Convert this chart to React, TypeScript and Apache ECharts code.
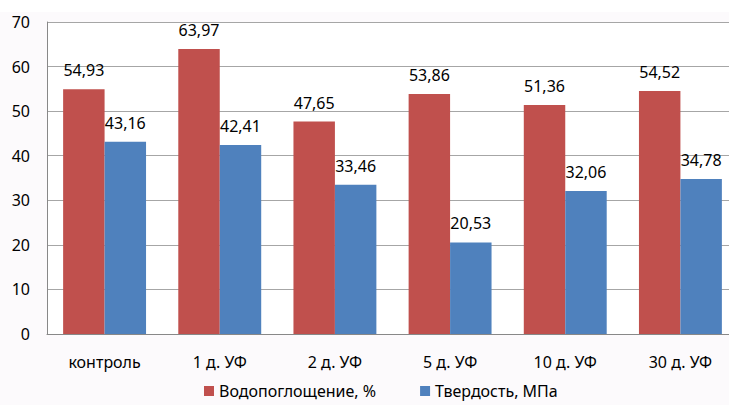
import React, { useEffect, useRef } from "react";
import * as echarts from "echarts";

const categories = ["контроль", "1 д. УФ", "2 д. УФ", "5 д. УФ", "10 д. УФ", "30 д. УФ"];
const waterAbsorption = [54.93, 63.97, 47.65, 53.86, 51.36, 54.52];
const hardness = [43.16, 42.41, 33.46, 20.53, 32.06, 34.78];
const seriesNames = ["Водопоглощение, %", "Твердость, МПа"];

const FONT = "Noto Sans";

export default function App() {
  const ref = useRef<HTMLDivElement>(null);
  useEffect(() => {
    if (!ref.current) return;
    const chart = echarts.init(ref.current, undefined, { renderer: "svg" });
    const fmt = (p: any) => String(p.value.toFixed(2)).replace(".", ",");
    chart.setOption({
      animation: false,
      backgroundColor: "#fcfafc",
      textStyle: { fontFamily: FONT },
      graphic: [
        { type: "rect", left: 0, top: 0, shape: { width: 729, height: 12 }, style: { fill: "#ffffff" }, z: -10, silent: true },
      ],
      grid: {
        left: 47, top: 22, width: 691, height: 312, containLabel: false, outerBoundsMode: "none",
        show: true, backgroundColor: "#ffffff", borderWidth: 0,
      },
      legend: {
        bottom: 1,
        left: 199,
        itemWidth: 10,
        itemHeight: 10,
        itemGap: 44,
        icon: "rect",
        textStyle: { fontSize: 16, color: "#000", fontFamily: FONT },
        data: seriesNames,
      },
      xAxis: {
        type: "category",
        data: categories,
        axisLine: { lineStyle: { color: "#888", width: 1 } },
        axisTick: { show: false },
        axisLabel: { fontSize: 16, color: "#000", margin: 20, fontFamily: FONT },
      },
      yAxis: {
        type: "value",
        min: 0,
        max: 70,
        interval: 10,
        axisLine: { show: true, lineStyle: { color: "#888", width: 1 } },
        axisTick: { show: false },
        splitLine: { lineStyle: { color: "#a6a6a6", width: 1 } },
        axisLabel: { fontSize: 16, color: "#000", margin: 17, fontFamily: FONT },
      },
      series: [
        {
          name: seriesNames[0],
          type: "bar",
          data: waterAbsorption,
          barGap: "0%",
          barCategoryGap: "28%",
          itemStyle: { color: "#c0504d" },
          label: { show: true, position: "top", distance: 11, fontSize: 16, color: "#000", formatter: fmt, fontFamily: FONT },
        },
        {
          name: seriesNames[1],
          type: "bar",
          data: hardness,
          barGap: "0%",
          barCategoryGap: "28%",
          itemStyle: { color: "#4f81bd" },
          label: { show: true, position: "top", distance: 11, fontSize: 16, color: "#000", formatter: fmt, fontFamily: FONT },
        },
      ],
    });
    return () => chart.dispose();
  }, []);
  return <div ref={ref} style={{ width: 729, height: 405, position: "absolute", left: 0, top: 0 }} />;
}
